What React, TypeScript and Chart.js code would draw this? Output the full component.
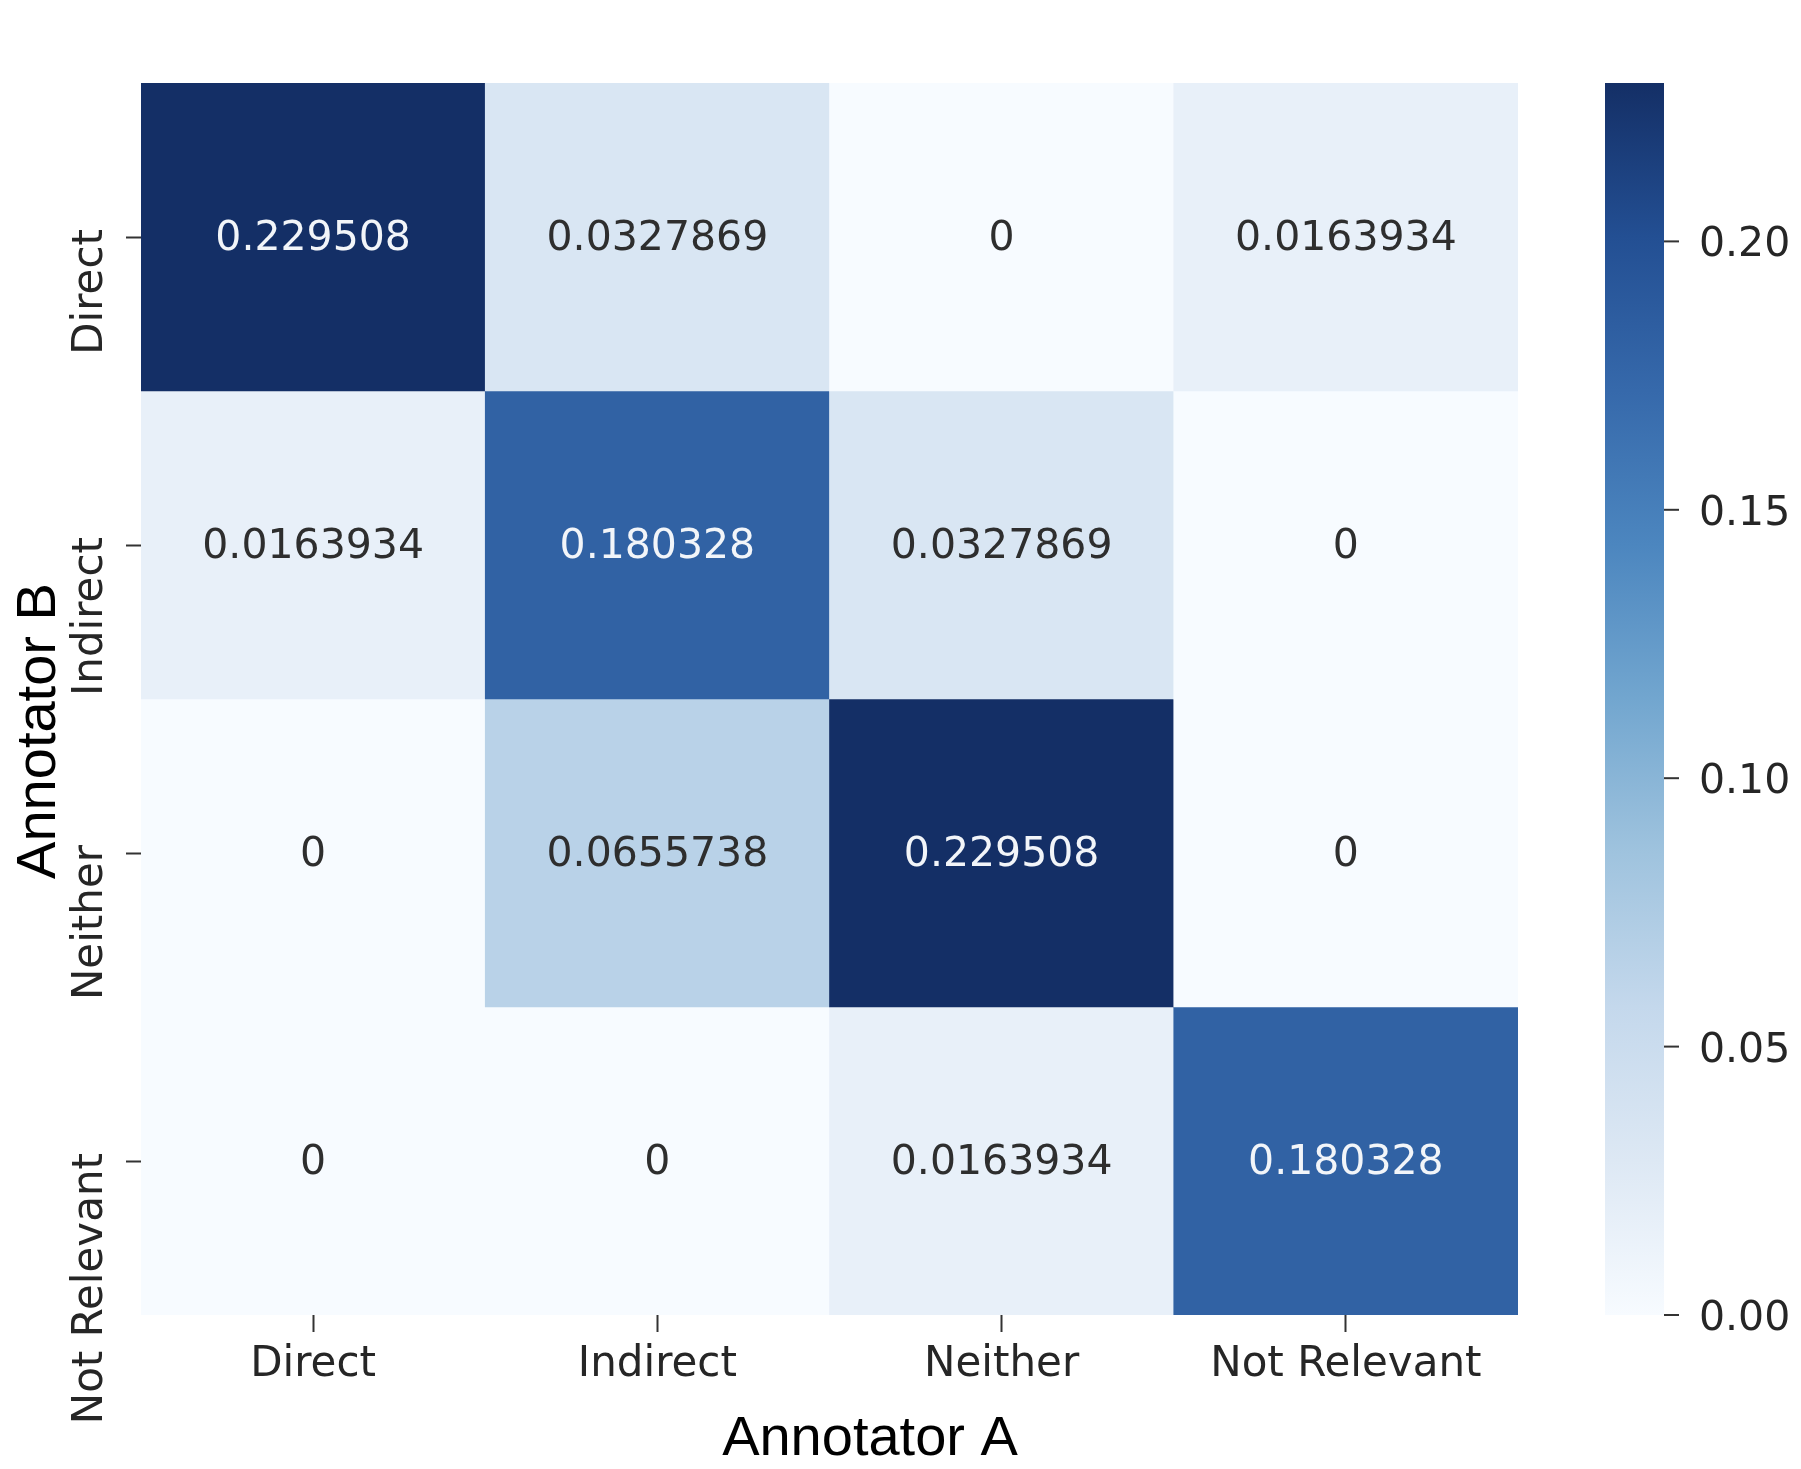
import React, { useEffect, useRef } from 'react';
import { Chart, registerables } from 'chart.js';

Chart.register(...registerables);

// ---------- data ----------
const colLabels = ['Direct', 'Indirect', 'Neither', 'Not Relevant']; // Annotator A
const rowLabels = ['Direct', 'Indirect', 'Neither', 'Not Relevant']; // Annotator B

const rowDirect = [0.229508, 0.0327869, 0, 0.0163934];
const rowIndirect = [0.0163934, 0.180328, 0.0327869, 0];
const rowNeither = [0, 0.0655738, 0.229508, 0];
const rowNotRelevant = [0, 0, 0.0163934, 0.180328];
const matrix = [rowDirect, rowIndirect, rowNeither, rowNotRelevant];

const colorbarTicks = [0, 0.05, 0.1, 0.15, 0.2];
const colorbarTickLabels = ['0.00', '0.05', '0.10', '0.15', '0.20'];
const vMin = 0;
const vMax = 0.229508;

const xTitle = 'Annotator A';
const yTitle = 'Annotator B';

// ---------- colormap (Blues, as rendered in the reference) ----------
const cmapStops: [number, string][] = [
  [0.0, '#f7fbff'],
  [0.125, '#dde8f4'],
  [0.25, '#c4d8ec'],
  [0.375, '#9fc3de'],
  [0.5, '#72a6cf'],
  [0.625, '#4c86bf'],
  [0.75, '#3669ab'],
  [0.875, '#234f93'],
  [1.0, '#142f66'],
];

function hexToRgb(h: string): number[] {
  const n = parseInt(h.slice(1), 16);
  return [(n >> 16) & 255, (n >> 8) & 255, n & 255];
}

function colorRgb(v: number): number[] {
  let t = (v - vMin) / (vMax - vMin);
  t = Math.max(0, Math.min(1, t));
  for (let i = 0; i < cmapStops.length - 1; i++) {
    const [t0, c0] = cmapStops[i];
    const [t1, c1] = cmapStops[i + 1];
    if (t >= t0 && t <= t1) {
      const f = (t - t0) / (t1 - t0);
      const a = hexToRgb(c0);
      const b = hexToRgb(c1);
      return a.map((x, k) => Math.round(x + (b[k] - x) * f));
    }
  }
  return hexToRgb(cmapStops[cmapStops.length - 1][1]);
}

function colorAt(v: number): string {
  const [r, g, b] = colorRgb(v);
  return `rgb(${r},${g},${b})`;
}

function luminance(rgb: number[]): number {
  const c = rgb.map((x) => {
    const s = x / 255;
    return s <= 0.03928 ? s / 12.92 : Math.pow((s + 0.055) / 1.055, 2.4);
  });
  return 0.2126 * c[0] + 0.7152 * c[1] + 0.0722 * c[2];
}

function fmtG(v: number): string {
  if (v === 0) return '0';
  let s = v.toPrecision(6);
  if (s.indexOf('.') >= 0) s = s.replace(/0+$/, '').replace(/\.$/, '');
  return s;
}

const W = 1801;
const H = 1469;
const TICK_FONT = 'DejaVu Sans';
const TEXT_COLOR = '#262626';

export default function App() {
  const ref = useRef<HTMLCanvasElement>(null);

  useEffect(() => {
    const canvas = ref.current;
    if (!canvas) return;

    const overlay = {
      id: 'heatmapOverlay',
      afterDraw(chart: any) {
        const ctx = chart.ctx as CanvasRenderingContext2D;
        ctx.save();

        // y tick labels (rotated, ending just above each tick)
        const ys = chart.scales.y;
        ctx.font = `42px "${TICK_FONT}"`;
        ctx.fillStyle = TEXT_COLOR;
        ctx.textAlign = 'right';
        ctx.textBaseline = 'middle';
        rowLabels.forEach((lab, i) => {
          const py = ys.getPixelForTick(i);
          ctx.save();
          ctx.translate(91, py - 8);
          ctx.rotate(-Math.PI / 2);
          ctx.fillText(lab, 0, 0);
          ctx.restore();
        });

        // cell annotations
        ctx.font = `41px "${TICK_FONT}"`;
        ctx.textAlign = 'center';
        ctx.textBaseline = 'alphabetic';
        matrix.forEach((row, r) => {
          const meta = chart.getDatasetMeta(r);
          row.forEach((v, c) => {
            const el: any = meta.data[c];
            if (!el) return;
            const cy = (el.y + el.base) / 2;
            const lum = luminance(colorRgb(v));
            ctx.fillStyle = lum > 0.408 ? '#2e2e2e' : '#f2f5f9';
            ctx.fillText(fmtG(v), el.x, cy + 13);
          });
        });

        // colorbar
        const cb = chart.scales.cb;
        const yTop = cb.getPixelForValue(vMax);
        const yBot = cb.getPixelForValue(vMin);
        const cbLeft = 1605;
        const cbW = 59;
        const grad = ctx.createLinearGradient(0, yBot, 0, yTop);
        cmapStops.forEach(([t, c]) => grad.addColorStop(t, c));
        ctx.fillStyle = grad;
        ctx.fillRect(cbLeft, yTop, cbW, yBot - yTop);

        ctx.strokeStyle = '#333333';
        ctx.lineWidth = 2;
        ctx.fillStyle = TEXT_COLOR;
        ctx.font = `41px "${TICK_FONT}"`;
        ctx.textAlign = 'left';
        colorbarTicks.forEach((v, i) => {
          const y = cb.getPixelForValue(v);
          ctx.beginPath();
          ctx.moveTo(cbLeft + cbW, y);
          ctx.lineTo(cbLeft + cbW + 15, y);
          ctx.stroke();
          ctx.fillText(colorbarTickLabels[i], 1699, y + 15);
        });

        // axis titles
        ctx.fillStyle = '#000000';
        ctx.font = '56px "Liberation Sans"';
        ctx.textAlign = 'center';
        ctx.textBaseline = 'alphabetic';
        ctx.fillText(xTitle, 870, 1455);

        ctx.save();
        ctx.translate(55, 731);
        ctx.rotate(-Math.PI / 2);
        ctx.fillText(yTitle, 0, 0);
        ctx.restore();

        ctx.restore();
      },
    };

    const chart = new Chart(canvas, {
      type: 'bar',
      data: {
        labels: colLabels,
        datasets: matrix.map((row, r) => ({
          label: rowLabels[r],
          yAxisID: 'y',
          data: row.map(() => [r, r + 1]) as any,
          backgroundColor: row.map((v) => colorAt(v)),
          borderWidth: 0,
          barPercentage: 1,
          categoryPercentage: 1,
          grouped: false,
        })),
      },
      options: {
        responsive: false,
        animation: false,
        events: [],
        layout: { padding: { left: 0, top: 83, right: 283, bottom: 0 } },
        plugins: {
          legend: { display: false },
          tooltip: { enabled: false },
        },
        scales: {
          x: {
            position: 'bottom',
            grid: {
              display: true,
              offset: false,
              drawOnChartArea: false,
              drawTicks: true,
              tickLength: 17,
              tickWidth: 2,
              tickColor: '#333333',
            },
            border: { display: false },
            ticks: {
              font: { family: TICK_FONT, size: 42 },
              color: TEXT_COLOR,
              padding: 8,
              minRotation: 0,
              maxRotation: 0,
              autoSkip: false,
            },
            afterFit: (s: any) => {
              s.height = 154;
            },
          },
          y: {
            type: 'linear',
            position: 'left',
            min: 0,
            max: 4,
            reverse: true,
            afterBuildTicks: (s: any) => {
              s.ticks = rowLabels.map((_, i) => ({ value: i + 0.5 }));
            },
            grid: {
              display: true,
              drawOnChartArea: false,
              drawTicks: true,
              tickLength: 15,
              tickWidth: 2,
              tickColor: '#333333',
            },
            border: { display: false },
            ticks: {
              callback: (_v: any, i: number) => rowLabels[i],
              font: { family: TICK_FONT, size: 42 },
              color: 'rgba(0,0,0,0)',
              padding: 35,
              minRotation: 90,
              maxRotation: 90,
              autoSkip: false,
            },
            afterFit: (s: any) => {
              s.width = 141;
            },
          },
          cb: {
            type: 'linear',
            position: 'right',
            display: false,
            min: vMin,
            max: vMax,
          },
        },
      } as any,
      plugins: [overlay],
    });

    return () => chart.destroy();
  }, []);

  return (
    <div style={{ position: 'absolute', left: 0, top: 0, width: W, height: H, background: '#ffffff' }}>
      <canvas ref={ref} width={W} height={H} style={{ display: 'block', width: W, height: H }} />
    </div>
  );
}
